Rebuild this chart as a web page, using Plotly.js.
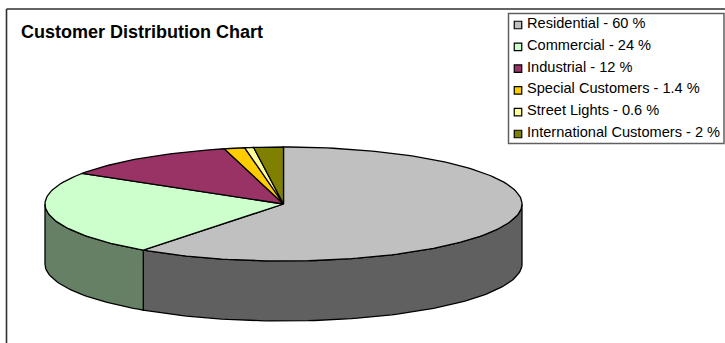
<!DOCTYPE html>
<html>
<head>
<meta charset="utf-8">
<script src="https://cdn.plot.ly/plotly-3.0.1.min.js"></script>
<style>html,body{margin:0;padding:0;background:#fff}#chart{width:725px;height:343px}</style>
</head>
<body>
<div id="chart"></div>
<script>
// Customer shares, in percent, clockwise from twelve o'clock
const categories = ['Residential', 'Commercial', 'Industrial', 'Special Customers', 'Street Lights', 'International Customers'];
const shares = [60, 24, 12, 1.4, 0.6, 2];
const topColors = ['#c0c0c0', '#ccffcc', '#993366', '#ffcc00', '#ffff99', '#808000'];
const wallColors = ['#606060', '#668066', '#4d1a33', '#806600', '#80804d', '#404000'];

// Pie geometry in page pixels; the axes run 1:1 with the page
const cx = 283.5, cy = 204, rx = 238.5, ry = 57, depth = 60;

const rim = (deg, drop) => {
  const a = deg * Math.PI / 180;
  return [cx + rx * Math.sin(a), cy - ry * Math.cos(a) + drop];
};
const arc = (from, to, drop) => {
  const n = Math.max(2, Math.ceil(Math.abs(to - from) / 1.5));
  const pts = [];
  for (let i = 0; i <= n; i++) pts.push(rim(from + (to - from) * i / n, drop));
  return pts;
};
const polygon = (pts, fill) => ({
  type: 'scatter', mode: 'lines', x: pts.map(p => p[0]), y: pts.map(p => p[1]),
  fill: 'toself', fillcolor: fill, line: {color: '#000', width: 1.3},
  hoverinfo: 'skip', showlegend: false
});

const traces = [];
const walls = [];
const faces = [];
let acc = 0;
shares.forEach((v, i) => {
  const start = acc * 3.6, end = (acc + v) * 3.6;
  acc += v;
  // Only the part of a slice facing the viewer (90 to 270 degrees) shows a wall
  const a = Math.max(start, 90), b = Math.min(end, 270);
  if (b > a) {
    const wall = arc(a, b, 0).concat(arc(b, a, depth));
    wall.push(wall[0]);
    walls.push(polygon(wall, wallColors[i]));
  }
  const face = [[cx, cy]].concat(arc(start, end, 0));
  face.push([cx, cy]);
  faces.push(polygon(face, topColors[i]));
});
traces.push(...walls, ...faces);

// Key: one square swatch per category, with its label as an annotation
const keyX = 518, keyY = 25, keyStep = 21.8;
traces.push({
  type: 'scatter', mode: 'markers',
  x: categories.map(() => keyX),
  y: categories.map((_, i) => keyY + i * keyStep),
  marker: {symbol: 'square', size: 7.5, color: topColors, line: {color: '#000', width: 1.2}},
  hoverinfo: 'skip', showlegend: false
});
const keyLabels = categories.map((c, i) => ({
  x: 525, y: keyY - 2 + i * keyStep, xref: 'x', yref: 'y',
  text: c + ' - ' + shares[i] + ' %', showarrow: false, xanchor: 'left', yanchor: 'middle',
  font: {family: 'Liberation Sans, Arial, sans-serif', size: 14.6, color: '#000'}
}));

const frameLine = {color: '#303030', width: 1.6};
const layout = {
  width: 725, height: 343,
  margin: {l: 0, r: 0, t: 0, b: 0},
  paper_bgcolor: '#fff', plot_bgcolor: '#fff',
  xaxis: {range: [0, 725], visible: false, fixedrange: true},
  yaxis: {range: [343, 0], visible: false, fixedrange: true},
  showlegend: false,
  shapes: [
    {type: 'line', x0: 6.5, x1: 725, y0: 9, y1: 9, line: frameLine, layer: 'below'},
    {type: 'line', x0: 6.5, x1: 6.5, y0: 9, y1: 343, line: frameLine, layer: 'below'},
    {type: 'rect', x0: 508.5, x1: 724, y0: 13.5, y1: 143.5, line: {color: '#606060', width: 1.5}, fillcolor: '#fff', layer: 'below'}
  ],
  annotations: [{
    x: 19, y: 32, xref: 'x', yref: 'y', text: '<b>Customer Distribution Chart</b>',
    showarrow: false, xanchor: 'left', yanchor: 'middle',
    font: {family: 'Liberation Sans, Arial, sans-serif', size: 18, color: '#000'}
  }].concat(keyLabels)
};
Plotly.newPlot('chart', traces, layout, {displayModeBar: false, staticPlot: true});
</script>
</body>
</html>
